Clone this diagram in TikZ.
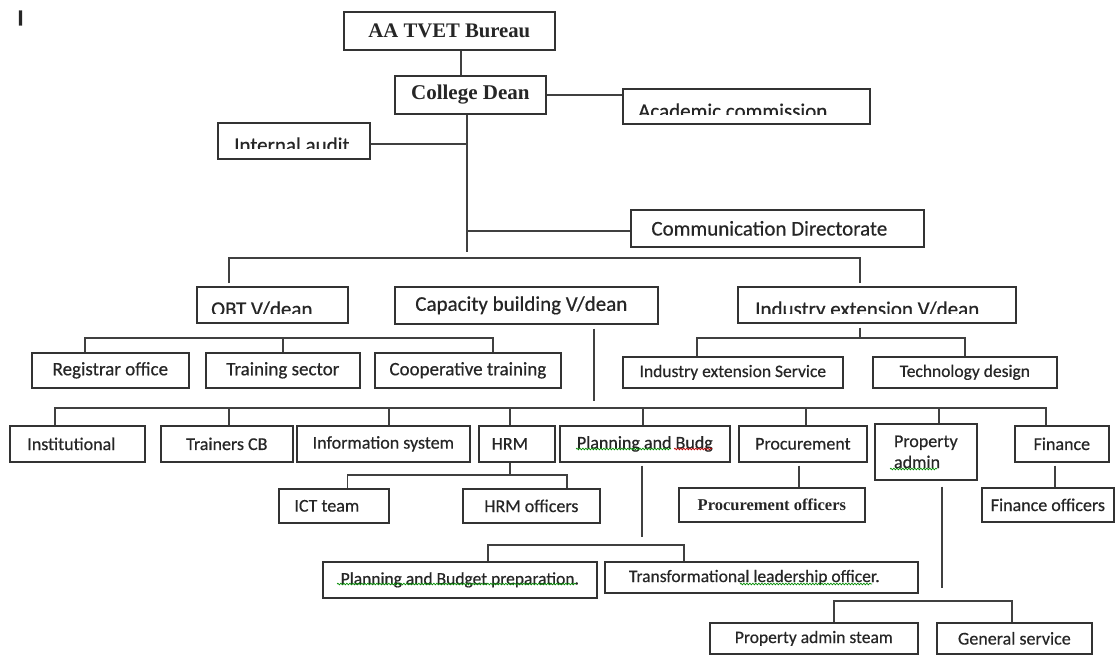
\documentclass[tikz,border=0pt]{standalone}
\usepackage{fontspec}
\setmainfont{Carlito}[FakeBold=0.5]
\newfontfamily\serifrm{Liberation Serif}
\usetikzlibrary{decorations.pathmorphing}
\newcommand\obox[6][]{\node[box,minimum width={#5-#3},minimum height={#6-#4},#1] (#2) at (#3,#4)}
\begin{document}
\begin{tikzpicture}[x=1pt,y=-1pt,
  box/.style={draw=black!80, line width=1.7pt, rectangle, inner sep=0pt, text=black!85, anchor=north west},
  conn/.style={draw=black!75, line width=1.7pt},
  lbl/.style={text=black!85, inner sep=0pt, anchor=base west},
  squig/.style={decorate, decoration={snake, amplitude=0.8pt, segment length=3pt}, line width=0.7pt},
  f21/.style={font=\fontsize{21}{24}\selectfont},
  f19/.style={font=\fontsize{19}{22}\selectfont},
  f18/.style={font=\fontsize{18}{21}\selectfont},
  f175/.style={font=\fontsize{17.5}{21}\selectfont},
  serA/.style={font=\serifrm\bfseries\fontsize{20.7}{24}\selectfont},
  serB/.style={font=\serifrm\bfseries\fontsize{21}{24}\selectfont},
  serC/.style={font=\serifrm\bfseries\fontsize{16.5}{20}\selectfont},
]
\useasboundingbox (0,0) rectangle (1116,655);
\fill[white] (0,0) rectangle (1116,655);

\node[font=\bfseries\fontsize{23}{25}\selectfont, text=black!85, inner sep=0pt] (mark) at (20.5,18) {I};

% top
\obox[serA]{tvet}{343}{11}{554}{49}{AA TVET Bureau};
\obox[serB]{dean}{394}{75}{545}{113}{College Dean};
\obox{acad}{622}{88}{869}{123}{};
\obox{audit}{217}{122}{369}{158}{};
\obox[f21]{comm}{630}{209}{923}{246}{Communication Directorate\hspace*{16pt}};
\begin{scope}\clip (622,88) rectangle (869,115);
\node[lbl,f21] at (638,118) {Academic commission};\end{scope}
\begin{scope}\clip (217,122) rectangle (369,149);
\node[lbl,f21] at (234,152) {Internal audit};\end{scope}

% vice deans
\obox{obt}{196}{286}{347}{322}{};
\obox[f21]{cap}{394}{286}{657}{323}{Capacity building V/dean\hspace*{10pt}};
\obox{indus}{737}{286}{1015}{322}{};
\begin{scope}\clip (196,286) rectangle (347,313);
\node[lbl,f21] at (211,316) {OBT V/dean};\end{scope}
\begin{scope}\clip (737,286) rectangle (1015,313);
\node[lbl,f21] at (755,316) {Industry extension V/dean};\end{scope}

% row 2
\obox[f19]{reg}{31}{352}{188}{387}{Registrar office};
\obox[f19]{trs}{205}{352}{359}{387}{Training sector};
\obox[f19]{coop}{374}{352}{560}{387}{Cooperative training};
\obox[f175]{ies}{622}{356}{842}{387}{Industry extension Service};
\obox[f175]{tech}{872}{356}{1056}{387}{Technology design};

% row 3
\obox[f18]{inst}{9}{425}{144}{461}{Institutional\hspace*{12pt}};
\obox[f18]{tcb}{160}{425}{292}{461}{Trainers CB};
\obox[f18]{info}{296}{425}{469}{461}{Information system};
\obox[f18]{hrm}{478}{425}{554}{461}{HRM\hspace*{14pt}};
\obox[f18]{plan}{559}{425}{729}{461}{Planning and Budg};
\obox[f18]{proc}{738}{425}{866}{461}{Procurement};
\obox[f18,align=left]{prop}{874}{423}{976}{479}{Property\\admin};
\obox[f18]{fin}{1014}{425}{1108}{461}{Finance};

% row 4
\obox[f18]{ict}{278}{488}{388}{522}{ICT team\hspace*{14pt}};
\obox[f18]{hrmo}{462}{488}{599}{522}{HRM officers};
\obox[serC]{proco}{678}{487}{864}{521}{Procurement officers};
\obox[f18]{fino}{981}{487}{1113}{521}{Finance officers};

% row 5, 6
\obox[f175]{pbp}{322}{561}{596}{597}{Planning and Budget preparation.};
\obox[f175]{tlo}{604}{561}{917}{592}{Transformational leadership officer.\hspace*{14pt}};
\obox[f175]{pas}{709}{622}{917}{653}{Property admin steam};
\obox[f18]{gs}{936}{622}{1091}{653}{General service};

% junction coordinates
\coordinate (s1) at (461,0);
\coordinate (ja) at (467,144);
\coordinate (jc) at (467,231);
\coordinate (mainend) at (467,252);
\coordinate (b1l) at (229,258); \coordinate (b1r) at (860,258);
\coordinate (b2l) at (85,338); \coordinate (b2m) at (283,338); \coordinate (b2r) at (493,338);
\coordinate (b3l) at (697,338); \coordinate (b3m) at (860,338); \coordinate (b3r) at (965,338);
\coordinate (capend) at (594,401);
\coordinate (b4a) at (55,408); \coordinate (b4b) at (229,408); \coordinate (b4c) at (389,408);
\coordinate (b4d) at (510,408); \coordinate (b4e) at (643,408); \coordinate (b4f) at (806,408);
\coordinate (b4g) at (939,408); \coordinate (b4h) at (1046,408);
\coordinate (h1) at (347.5,475); \coordinate (hm) at (510,475); \coordinate (h2) at (567,475);
\coordinate (px) at (799,0); \coordinate (fx) at (1055,0);
\coordinate (pend) at (642,537);
\coordinate (p1) at (488,545); \coordinate (p2) at (684,545);
\coordinate (qend) at (942,588);
\coordinate (q1) at (834,601); \coordinate (q2) at (1012,601);

% connectors
\draw[conn] (tvet.south -| s1) -- (dean.north -| s1);
\draw[conn] (dean.east) -- (acad.west |- dean.east);
\draw[conn] (dean.south -| mainend) -- (mainend);
\draw[conn] (audit.east |- ja) -- (ja);
\draw[conn] (comm.west |- jc) -- (jc);
\draw[conn] ([yshift=3pt]obt.north -| b1l) -- (b1l) -- (b1r) -- ([yshift=3pt]indus.north -| b1r);
\draw[conn] (reg.north -| b2l) -- (b2l) -- (b2r) -- (coop.north -| b2r);
\draw[conn] (trs.north -| b2m) -- (b2m);
\draw[conn] ([yshift=-4pt]indus.south -| b3m) -- (b3m);
\draw[conn] (ies.north -| b3l) -- (b3l) -- (b3r) -- (tech.north -| b3r);
\draw[conn] ([yshift=-4pt]cap.south -| capend) -- (capend);
\draw[conn] (inst.north -| b4a) -- (b4a) -- (b4h) -- (fin.north -| b4h);
\draw[conn] (tcb.north -| b4b) -- (b4b);
\draw[conn] (info.north -| b4c) -- (b4c);
\draw[conn] (hrm.north -| b4d) -- (b4d);
\draw[conn] (plan.north -| b4e) -- (b4e);
\draw[conn] (proc.north -| b4f) -- (b4f);
\draw[conn] (prop.north -| b4g) -- (b4g);
\draw[conn] (hrm.south -| hm) -- (hm);
\draw[conn] (ict.north -| h1) -- (h1) -- (h2) -- (hrmo.north -| h2);
\draw[conn] ([yshift=-3pt]proc.south -| px) -- (proco.north -| px);
\draw[conn] ([yshift=-3pt]fin.south -| fx) -- (fino.north -| fx);
\draw[conn] ([yshift=-3pt]plan.south -| pend) -- (pend);
\draw[conn] (pbp.north -| p1) -- (p1) -- (p2) -- (tlo.north -| p2);
\draw[conn] ([yshift=-6pt]prop.south -| qend) -- (qend);
\draw[conn] (pas.north -| q1) -- (q1) -- (q2) -- (gs.north -| q2);

% spell-check marks
\draw[squig, green!55!black] (576,449) -- (671,449);
\draw[squig, red!75!black] (674,449) -- (712,449);
\draw[squig, green!55!black] (890,469) -- (937,469);
\draw[squig, green!55!black] (337,584) -- (576,584);
\draw[squig, green!55!black] (740,584) -- (872,584);
\end{tikzpicture}
\end{document}
